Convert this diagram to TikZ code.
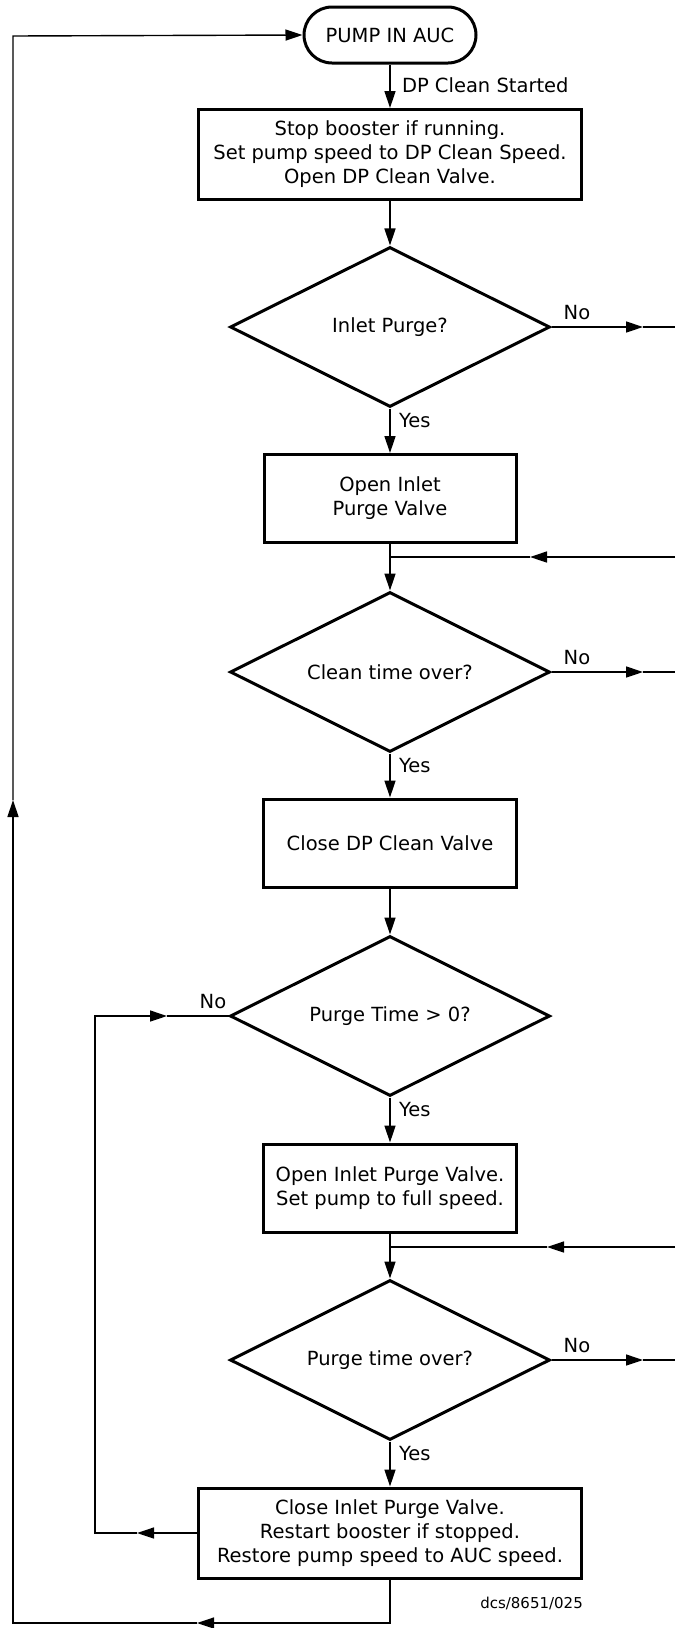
\documentclass[tikz,border=0pt]{standalone}
\usepackage{fontspec}
\setmainfont{DejaVu Sans}
\usetikzlibrary{shapes.geometric,arrows.meta}
\begin{document}
\begin{tikzpicture}[x=1pt,y=-1pt,>={Triangle[length=17pt,width=11pt]},
  font=\fontsize{19.5}{24}\selectfont,
  line/.style={line width=1.4pt},
  box/.style={draw,line width=3pt,align=center,inner sep=0pt},
  test/.style={draw,diamond,aspect=2,line width=3pt,inner sep=0pt,
    minimum width=320pt,minimum height=160pt}]
  \useasboundingbox (0,0) rectangle (675,1628);
  % nodes down the middle
  \node[box,rounded corners=28pt,minimum width=172pt,minimum height=56pt] (auc) at (390,35) {PUMP IN AUC};
  \node[box,minimum width=383pt,minimum height=90pt] (stop) at (390,154.5)
    {Stop booster if running.\\Set pump speed to DP Clean Speed.\\Open DP Clean Valve.};
  \node[test] (inlet) at (390,327) {Inlet Purge?};
  \node[box,minimum width=252pt,minimum height=88pt] (openinlet) at (390,498.5) {Open Inlet\\Purge Valve};
  \node[test] (cleantime) at (390,672) {Clean time over?};
  \node[box,minimum width=253pt,minimum height=88pt] (closedp) at (390,843) {Close DP Clean Valve};
  \node[test] (purgezero) at (390,1016) {Purge Time > 0?};
  \node[box,minimum width=253pt,minimum height=88pt] (fullspeed) at (390,1188)
    {Open Inlet Purge Valve.\\Set pump to full speed.};
  \node[test] (purgetime) at (390,1360) {Purge time over?};
  \node[box,minimum width=383pt,minimum height=90pt] (restore) at (390,1533)
    {Close Inlet Purge Valve.\\Restart booster if stopped.\\Restore pump speed to AUC speed.};
  \node[anchor=east,inner sep=0pt,font=\fontsize{15}{18}\selectfont] (dcs) at (583,1603) {dcs/8651/025};

  % main flow
  \draw[line,->] (auc) -- (stop);
  \node[anchor=west] (started) at (398.5,85) {DP Clean Started};
  \draw[line,->] (stop) -- (inlet);
  \draw[line,->] (inlet) -- (openinlet);
  \draw[line,->] (openinlet) -- (cleantime);
  \draw[line,->] (cleantime) -- (closedp);
  \draw[line,->] (closedp) -- (purgezero);
  \draw[line,->] (purgezero) -- (fullspeed);
  \draw[line,->] (fullspeed) -- (purgetime);
  \draw[line,->] (purgetime) -- (restore);
  \foreach \d in {inlet,cleantime,purgezero,purgetime}
    \node[anchor=west] (yes\d) at ([xshift=5.5pt,yshift=-12pt]\d.south) {Yes};

  % No branches leaving on the right
  \foreach \d/\y in {inlet/327,cleantime/672,purgetime/1360} {
    \coordinate (tip\d) at (643,\y);
    \coordinate (edge\d) at (675,\y);
    \draw[line,->] (\d.east) -- (tip\d);
    \draw[line] (tip\d) -- (edge\d);
    \node (no\d) at (577,\y-14) {No};
  }

  % returns coming in from the right
  \foreach \n/\y/\t in {one/557/530,two/1247/547} {
    \coordinate (ret\n) at (675,\y);
    \coordinate (rtip\n) at (\t,\y);
    \coordinate (join\n) at (390,\y);
    \draw[line,->] (ret\n) -- (rtip\n);
    \draw[line] (rtip\n) -- (join\n);
  }

  % inner loop back to Purge Time > 0?
  \coordinate (ltip) at (137,1533);
  \coordinate (lbot) at (95,1533);
  \coordinate (ltop) at (95,1016);
  \coordinate (ntip) at (167,1016);
  \draw[line,->] (restore.west) -- (ltip);
  \draw[line,->] (ltip) -- (lbot) -- (ltop) -- (ntip);
  \draw[line] (ntip) -- (purgezero.west);
  \node (nozero) at (213,1002) {No};

  % outer loop back to PUMP IN AUC
  \coordinate (obot) at (390,1623);
  \coordinate (btip) at (197,1623);
  \coordinate (ocorner) at (13,1623);
  \coordinate (utip) at (13,800);
  \coordinate (otop) at (13,36);
  \draw[line,->] (restore.south) -- (obot) -- (btip);
  \draw[line,->] (btip) -- (ocorner) -- (utip);
  \draw[line,->] (utip) -- (otop) -- (auc.west);
\end{tikzpicture}
\end{document}
